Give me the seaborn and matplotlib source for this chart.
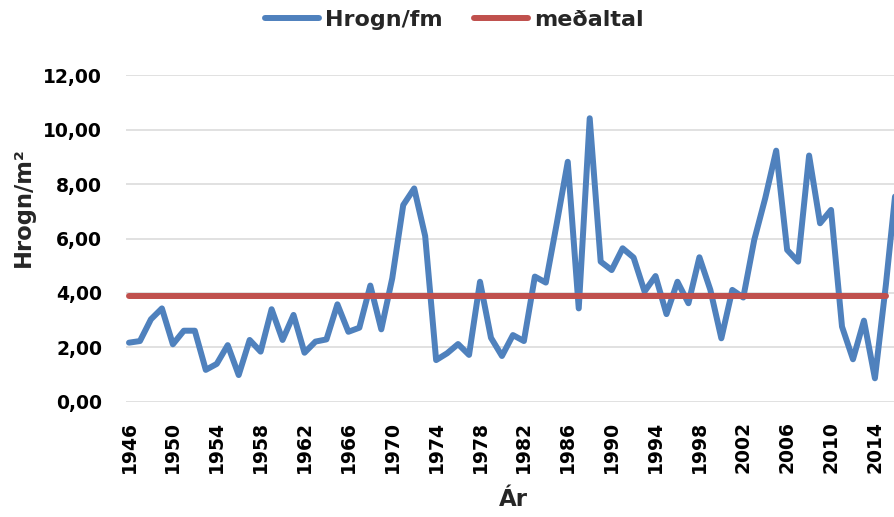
import matplotlib
matplotlib.use("Agg")
import matplotlib.pyplot as plt
from matplotlib.ticker import FuncFormatter
import numpy as np
import pandas as pd
import seaborn as sns

# Hrogn per fermetra, 1946-2016
years = list(range(1946, 2017))
hrogn = [2.17, 2.23, 3.03, 3.43, 2.11, 2.61, 2.61, 1.17, 1.39, 2.08,
         0.98, 2.27, 1.84, 3.40, 2.27, 3.19, 1.80, 2.21, 2.29, 3.58,
         2.57, 2.72, 4.27, 2.66, 4.54, 7.23, 7.84, 6.09, 1.53, 1.78,
         2.12, 1.72, 4.41, 2.35, 1.68, 2.45, 2.23, 4.60, 4.38, 6.56,
         8.82, 3.43, 10.42, 5.15, 4.84, 5.64, 5.30, 4.05, 4.62, 3.22,
         4.41, 3.62, 5.31, 4.11, 2.33, 4.11, 3.83, 5.95, 7.48, 9.23,
         5.58, 5.15, 9.05, 6.56, 7.05, 2.76, 1.56, 2.98, 0.86, 4.30,
         8.20]
medaltal = 3.88
mean_years = list(range(1946, 2016))
yticks = [0, 2, 4, 6, 8, 10, 12]
xtick_years = list(range(1946, 2015, 4))

df = pd.concat([
    pd.DataFrame({"year": years, "value": hrogn, "series": "Hrogn/fm"}),
    pd.DataFrame({"year": mean_years, "value": [medaltal] * len(mean_years), "series": "meðaltal"}),
])

sns.set_style("white")
plt.rcParams['font.family'] = ['DejaVu Sans']
plt.rcParams['font.weight'] = 'bold'

fig = plt.figure(figsize=(8.94, 5.17), dpi=100)
ax = fig.add_axes([125.7 / 894, 1 - 401.7 / 517, 1 - 125.7 / 894, (401.7 - 75.3) / 517])

sns.lineplot(
    data=df,
    x="year",
    y="value",
    hue="series",
    hue_order=["Hrogn/fm", "meðaltal"],
    palette={"Hrogn/fm": "#4F81BD", "meðaltal": "#C0504D"},
    linewidth=4.3,
    ax=ax,
    legend=True,
    zorder=3,
)
for line in ax.get_lines():
    line.set_solid_capstyle("round")
    line.set_solid_joinstyle("round")

ax.set_xlim(1945.7, 2015.74)
ax.set_ylim(0, 12)
ax.set_yticks(yticks)
ax.yaxis.set_major_formatter(FuncFormatter(lambda v, p: f"{v:.2f}".replace(".", ",")))
ax.set_xticks(xtick_years)
ax.set_xticklabels([str(y) for y in xtick_years], rotation=90,
                   fontweight="bold", fontsize=13.5)
for lab in ax.get_yticklabels():
    lab.set_fontweight("bold")
    lab.set_fontsize(13.5)
ax.tick_params(axis="y", length=0, pad=17, colors="black")
ax.tick_params(axis="x", length=0, pad=14, colors="black")
ax.grid(axis="y", color="#D9D9D9", linewidth=1.1, zorder=0)
ax.grid(axis="x", visible=False)
for s in ax.spines.values():
    s.set_visible(False)

ax.set_xlabel("Ár", fontsize=16.5, fontweight="bold", va="center")
ax.xaxis.set_label_coords(0.504, -0.30)
ax.set_ylabel("Hrogn/m²", fontsize=16.3, fontweight="bold", va="center")
ax.yaxis.set_label_coords((23 - 125.7) / 768.3, 0.597)

handles, labels = ax.get_legend_handles_labels()
ax.legend().remove()
leg = fig.legend(handles, labels, loc="center", bbox_to_anchor=(0.508, 0.961), ncol=2,
                 frameon=False, handlelength=2.43, handletextpad=0.27, columnspacing=1.4,
                 prop={"weight": "bold", "size": 16})

fig.savefig("out.png", dpi=100)
